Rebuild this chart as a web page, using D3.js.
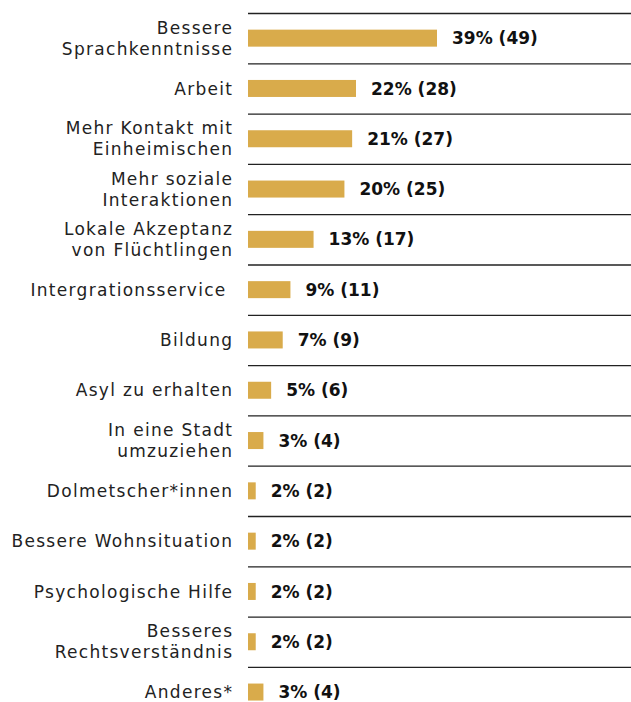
<!DOCTYPE html>
<html>
<head>
<meta charset="utf-8">
<script src="https://cdn.jsdelivr.net/npm/d3@7"></script>
<style>
  body { margin: 0; background: #fff; }
  svg { display: block; }
  text { font-family: "DejaVu Sans", sans-serif; white-space: pre; }
</style>
</head>
<body>
<div id="chart"></div>
<script>
const labels = [
  "Bessere\nSprachkenntnisse",
  "Arbeit",
  "Mehr Kontakt mit\nEinheimischen",
  "Mehr soziale\nInteraktionen",
  "Lokale Akzeptanz\nvon Flüchtlingen",
  "Intergrationsservice ",
  "Bildung",
  "Asyl zu erhalten",
  "In eine Stadt\numzuziehen",
  "Dolmetscher*innen",
  "Bessere Wohnsituation",
  "Psychologische Hilfe",
  "Besseres\nRechtsverständnis",
  "Anderes*"
]
const percents = [39, 22, 21, 20, 13, 9, 7, 5, 3, 2, 2, 2, 2, 3]
const counts = [49, 28, 27, 25, 17, 11, 9, 6, 4, 2, 2, 2, 2, 4]

const width = 631
const height = 702
const rowH = 50.3
const topY = 13

const data = labels.map((d, i) => ({ label: d, pct: percents[i], n: counts[i] }))

const svg = d3.select("#chart")
  .append("svg")
  .attr("width", width)
  .attr("height", height)

const y = d3.scaleBand()
  .domain(labels)
  .range([topY, topY + rowH * labels.length])

const x = d3.scaleLinear()
  .domain([0, 49])
  .range([248, 437])

// separator lines above each row
svg.selectAll("line.sep")
  .data(data)
  .enter()
  .append("line")
  .attr("class", "sep")
  .attr("x1", x(0))
  .attr("x2", width)
  .attr("y1", d => y(d.label) + 0.5)
  .attr("y2", d => y(d.label) + 0.5)
  .attr("stroke", "#222")
  .attr("stroke-width", 1.3)

const rows = svg.selectAll("g.row")
  .data(data)
  .enter()
  .append("g")
  .attr("class", "row")
  .attr("transform", d => `translate(0,${y(d.label) + y.bandwidth() / 2})`)

rows.append("rect")
  .attr("x", x(0))
  .attr("y", -8.5)
  .attr("width", d => x(d.n) - x(0))
  .attr("height", 17)
  .attr("fill", "#d9ab4b")

rows.append("text")
  .attr("x", d => x(d.n) + 15)
  .attr("y", 0)
  .attr("dy", "0.36em")
  .attr("font-size", "17px")
  .attr("font-weight", "bold")
  .attr("fill", "#111")
  .text(d => `${d.pct}% (${d.n})`)

const lbl = rows.append("text")
  .attr("x", 232)
  .attr("text-anchor", "end")
  .attr("font-size", "17px")
  .attr("letter-spacing", "1.3px")
  .attr("fill", "#222")

lbl.each(function(d) {
  const lines = d.label.split("\n")
  const t = d3.select(this)
  lines.forEach((ln, j) => {
    t.append("tspan")
      .attr("x", 233.3)
      .attr("y", (j - (lines.length - 1) / 2) * 21)
      .attr("dy", "0.36em")
      .text(ln)
  })
})
</script>
</body>
</html>
